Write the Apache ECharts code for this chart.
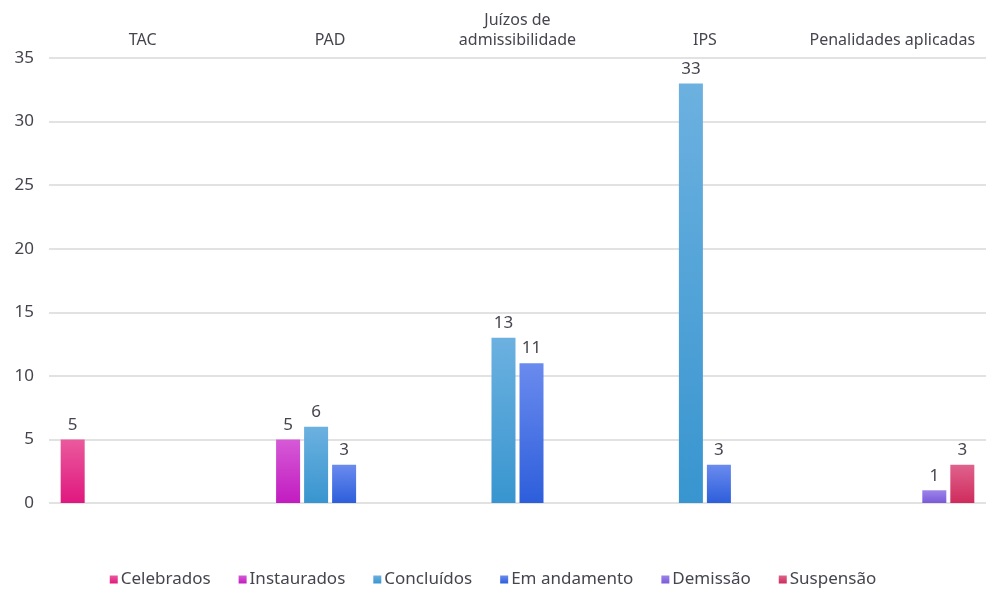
<!DOCTYPE html>
<html>
<head>
<meta charset="utf-8">
<script src="https://cdn.jsdelivr.net/npm/echarts@6/dist/echarts.min.js"></script>
<style>
  html, body { margin: 0; padding: 0; background: #fff; }
  #chart { width: 986px; height: 594px; }
</style>
</head>
<body>
<div id="chart"></div>
<script>
// categorias (eixo superior)
const categories = ['TAC', 'PAD', 'Juízos de\nadmissibilidade', 'IPS', 'Penalidades aplicadas'];

// valores por série (null = sem barra)
const celebrados  = [5, null, null, null, null];
const instaurados = [null, 5, null, null, null];
const concluidos  = [null, 6, 13, 33, null];
const emAndamento = [null, 3, 11, 3, null];
const demissao    = [null, null, null, null, 1];
const suspensao   = [null, null, null, null, 3];

const seriesNames = ['Celebrados', 'Instaurados', 'Concluídos', 'Em andamento', 'Demissão', 'Suspensão'];
const seriesData = [celebrados, instaurados, concluidos, emAndamento, demissao, suspensao];

// cores: topo -> base
const colorStops = [
  ['#ea5a9d', '#e0177f'],
  ['#d55ad6', '#c21cc0'],
  ['#6cb1e0', '#3895cf'],
  ['#6a8bee', '#2d5edb'],
  ['#9c84ea', '#7a5ad8'],
  ['#df638d', '#cf2b5c']
];
const legendColors = ['#e0237f', '#c827c6', '#45a5de', '#3a6ae2', '#8468e0', '#d43a68'];

const textColor = '#45454f';
const font = '"Noto Sans", sans-serif';

const chart = echarts.init(document.getElementById('chart'));

const series = seriesNames.map(function (name, i) {
  return {
    name: name,
    type: 'bar',
    data: seriesData[i],
    barWidth: 24,
    barGap: '16.7%',
    itemStyle: {
      color: new echarts.graphic.LinearGradient(0, 0, 0, 1, [
        { offset: 0, color: colorStops[i][0] },
        { offset: 1, color: colorStops[i][1] }
      ])
    },
    label: {
      show: true,
      position: 'top',
      distance: 6,
      color: textColor,
      fontSize: 17,
      fontFamily: font
    }
  };
});

const option = {
  color: legendColors,
  animation: false,
  grid: { left: 49, right: 0, top: 58, bottom: 91 },
  legend: {
    bottom: 1,
    left: 'center',
    itemWidth: 8,
    itemHeight: 8,
    itemGap: 28,
    icon: 'rect',
    textStyle: { color: textColor, fontSize: 17, fontFamily: font, padding: [0, 0, 0, -2] },
    data: seriesNames
  },
  xAxis: {
    type: 'category',
    position: 'top',
    data: categories,
    axisLine: { show: false },
    axisTick: { show: false },
    axisLabel: {
      color: textColor,
      fontSize: 16,
      fontFamily: font,
      margin: 8,
      lineHeight: 20,
      interval: 0
    }
  },
  yAxis: {
    type: 'value',
    min: 0,
    max: 35,
    interval: 5,
    axisLine: { show: false },
    axisTick: { show: false },
    axisLabel: { color: textColor, fontSize: 17, fontFamily: font, margin: 15 },
    splitLine: { lineStyle: { color: '#d9d9d9', width: 1.5 } }
  },
  series: series
};

chart.setOption(option);
</script>
</body>
</html>
